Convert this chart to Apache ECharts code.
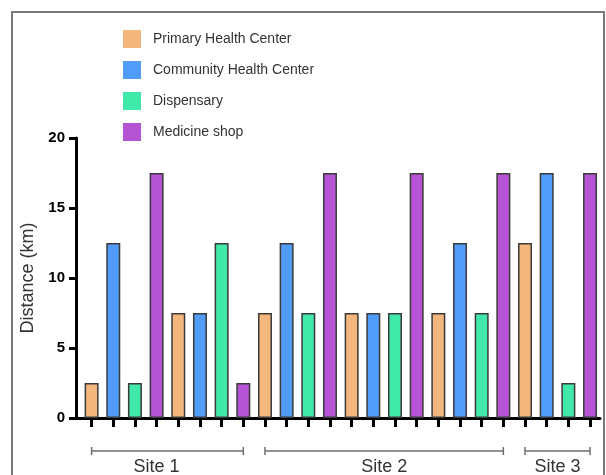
<!DOCTYPE html>
<html>
<head>
<meta charset="utf-8">
<style>
  html, body { margin: 0; padding: 0; background: #ffffff; }
  #chart { width: 606px; height: 475px; }
</style>
<script src="https://cdn.jsdelivr.net/npm/echarts@6/dist/echarts.min.js"></script>
</head>
<body>
<div id="chart"></div>
<script>
// Facility types, one bar per type within each sampled location cluster
const facilityTypes = ['Primary Health Center', 'Community Health Center', 'Dispensary', 'Medicine shop'];
const facilityColors = ['#F3B77D', '#519CF8', '#40E9AA', '#B654D6'];

// Distances (km), six clusters per facility type
const primaryHealthCenter   = [2.5, 7.5, 7.5, 7.5, 7.5, 12.5];
const communityHealthCenter = [12.5, 7.5, 12.5, 7.5, 12.5, 17.5];
const dispensary            = [2.5, 12.5, 7.5, 7.5, 7.5, 2.5];
const medicineShop          = [17.5, 2.5, 17.5, 17.5, 17.5, 17.5];

// Site groupings: first and last bar slot covered by each bracket
const siteNames = ['Site 1', 'Site 2', 'Site 3'];
const siteStart = [0, 8, 20];
const siteEnd   = [7, 19, 23];

const yTicks = [0, 5, 10, 15, 20];

const seriesValues = [primaryHealthCenter, communityHealthCenter, dispensary, medicineShop];
const nTypes = facilityTypes.length;
const nClusters = primaryHealthCenter.length;
const slotPositions = [];
for (let i = 0; i < nTypes * nClusters; i++) slotPositions.push(i);

const barSeries = facilityTypes.map((name, s) => ({
  name: name,
  type: 'bar',
  barWidth: 14,
  barGap: '-100%',
  itemStyle: { color: facilityColors[s], borderColor: '#3a3a3a', borderWidth: 1.5 },
  data: seriesValues[s].map((v, c) => [c * nTypes + s, v])
}));

// horizontal nudge (px) of each site caption relative to its bracket centre
const captionNudge = [-11, 0, 0];

const bracketSeries = {
  type: 'custom',
  clip: false,
  silent: true,
  encode: { x: [0, 1], y: 2 },
  data: siteNames.map((n, i) => [siteStart[i], siteEnd[i], 0, n]),
  renderItem: function (params, api) {
    const a = api.coord([api.value(0), 0]);
    const b = api.coord([api.value(1), 0]);
    const y = a[1] + 33;
    const lineStyle = { stroke: '#6e6e6e', lineWidth: 1.5 };
    return {
      type: 'group',
      children: [
        { type: 'line', shape: { x1: a[0], y1: y, x2: b[0], y2: y }, style: lineStyle },
        { type: 'line', shape: { x1: a[0], y1: y - 4, x2: a[0], y2: y + 4 }, style: lineStyle },
        { type: 'line', shape: { x1: b[0], y1: y - 4, x2: b[0], y2: y + 4 }, style: lineStyle },
        {
          type: 'text',
          style: {
            x: (a[0] + b[0]) / 2 + captionNudge[params.dataIndex], y: y + 16,
            text: siteNames[params.dataIndex],
            align: 'center', verticalAlign: 'middle',
            fill: '#333333',
            font: '18px "Liberation Sans", Arial, sans-serif'
          }
        }
      ]
    };
  }
};

const chart = echarts.init(document.getElementById('chart'), null, { renderer: 'canvas' });
chart.setOption({
  animation: false,
  backgroundColor: '#ffffff',
  textStyle: { fontFamily: '"Liberation Sans", Arial, sans-serif' },
  graphic: [{
    type: 'rect',
    shape: { x: 12, y: 12, width: 592, height: 480 },
    style: { fill: 'none', stroke: '#7a7a7a', lineWidth: 2 },
    silent: true,
    z: -10
  }],
  legend: {
    data: facilityTypes,
    orient: 'vertical',
    left: 118,
    top: 25,
    itemWidth: 18,
    itemHeight: 18,
    itemGap: 13,
    icon: 'rect',
    itemStyle: { borderWidth: 0 },
    textStyle: { fontSize: 14, color: '#333333', padding: [0, 0, 0, 7] }
  },
  grid: { left: 76, right: 6, top: 138, bottom: 57, containLabel: false },
  xAxis: {
    type: 'value',
    min: -0.72,
    max: 23.46,
    axisLine: { show: true, onZero: false, lineStyle: { color: '#000000', width: 3 } },
    axisTick: { show: true, customValues: slotPositions, length: 9, lineStyle: { color: '#000000', width: 3 } },
    axisLabel: { show: false },
    splitLine: { show: false }
  },
  yAxis: {
    type: 'value',
    min: 0,
    max: 20,
    interval: 5,
    name: 'Distance (km)',
    nameLocation: 'middle',
    nameGap: 39,
    nameTextStyle: { fontSize: 18, color: '#333333' },
    axisLine: { show: true, onZero: false, lineStyle: { color: '#000000', width: 3 } },
    axisTick: { show: true, length: 7, lineStyle: { color: '#000000', width: 3 } },
    axisLabel: {
      customValues: yTicks,
      fontSize: 15, fontWeight: 'bold', color: '#000000', margin: 11
    },
    splitLine: { show: false }
  },
  series: barSeries.concat([bracketSeries])
});
</script>
</body>
</html>
